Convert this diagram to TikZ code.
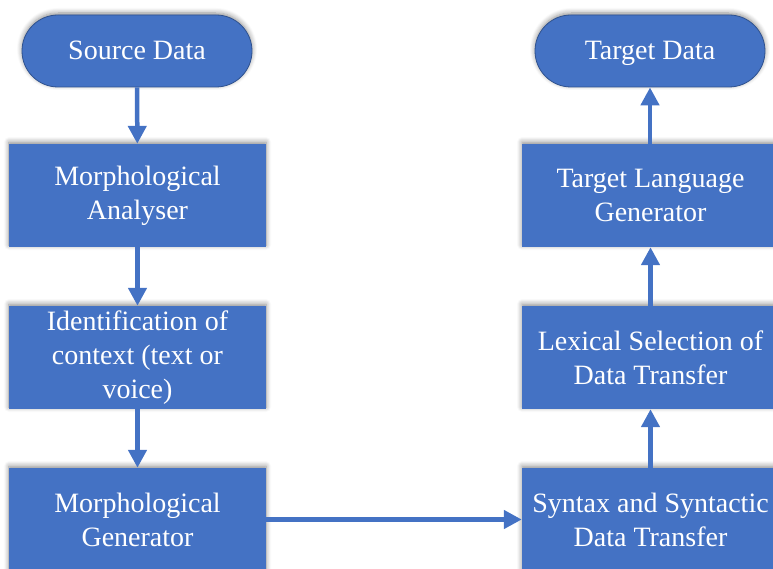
\documentclass[tikz,border=0pt]{standalone}
\usepackage{fontspec}
\setmainfont{Liberation Serif}
\usetikzlibrary{arrows.meta,shadows.blur}
\definecolor{boxblue}{RGB}{68,114,196}
\definecolor{edgeblue}{RGB}{47,82,143}
\tikzset{
  glow/.style={blur shadow={shadow xshift=0pt,shadow yshift=2pt,shadow blur radius=5pt,shadow blur steps=6,shadow opacity=45}},
  terminal/.style={draw=edgeblue,line width=0.8pt,fill=boxblue,rounded corners=36pt,
    minimum width=230pt,minimum height=72pt,text height=19pt,text depth=1pt,
    text=white,font=\fontsize{28}{34}\selectfont,glow},
  process/.style={fill=boxblue,minimum width=257pt,minimum height=103pt,inner sep=0pt,
    text=white,align=center,font=\fontsize{28}{34}\selectfont,glow},
  flow/.style={draw=boxblue,line width=4.5pt,-{Triangle[length=18pt,width=18pt]}}
}
\begin{document}
\begin{tikzpicture}[x=1pt,y=-1pt]
\useasboundingbox (0,0) rectangle (773,569);
% left column
\node[terminal] (src) at (137,51) {Source Data};
\node[process] (ana) at (137.5,195.5) {Morphological\\Analyser};
\node[process] (ctx) at (137.5,357.5) {Identification of\\context (text or\\voice)};
\node[process] (gen) at (137.5,519.5) {Morphological\\Generator};
% right column
\node[terminal] (tgt) at (650,51) {Target Data};
\node[process] (tlg) at (650.5,195.5) {Target Language\\Generator};
\node[process] (lex) at (650.5,357.5) {Lexical Selection of\\Data Transfer};
\node[process] (syn) at (650.5,519.5) {Syntax and Syntactic\\Data Transfer};
% connectors
\draw[flow] (src) -- (ana);
\draw[flow] (ana) -- (ctx);
\draw[flow] (ctx) -- (gen);
\draw[flow] (gen) -- (syn);
\draw[flow] (syn.north -| lex) -- (lex);
\draw[flow] (lex.north -| tlg) -- (tlg);
\draw[flow] (tlg.north -| tgt) -- (tgt);
\end{tikzpicture}
\end{document}
